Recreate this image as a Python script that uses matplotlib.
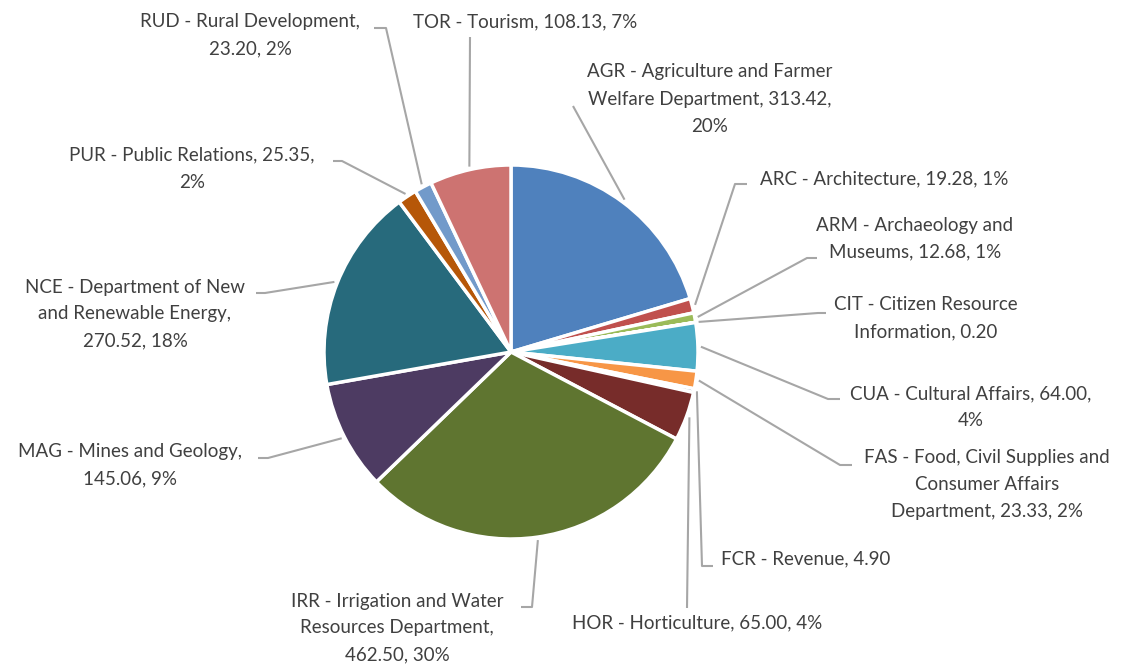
import numpy as np
import matplotlib
matplotlib.use('Agg')
import matplotlib.pyplot as plt

# data
codes = ['AGR', 'ARC', 'ARM', 'CIT', 'CUA', 'FAS', 'FCR', 'HOR', 'IRR', 'MAG',
         'NCE', 'PUR', 'RUD', 'TOR']
names = ['Agriculture and Farmer\nWelfare Department', 'Architecture',
         'Archaeology and\nMuseums', 'Citizen Resource\nInformation',
         'Cultural Affairs', 'Food, Civil Supplies and\nConsumer Affairs\nDepartment',
         'Revenue', 'Horticulture', 'Irrigation and Water\nResources Department',
         'Mines and Geology', 'Department of New\nand Renewable Energy',
         'Public Relations', 'Rural Development', 'Tourism']
values = [313.42, 19.28, 12.68, 0.20, 64.00, 23.33, 4.90, 65.00, 462.50, 145.06,
          270.52, 25.35, 23.20, 108.13]
colors = ['#4F81BD', '#C0504D', '#9BBB59', '#8064A2', '#4BACC6', '#F79646',
          '#2C4D75', '#772C2A', '#5F7530', '#4D3B62', '#276A7C', '#B65708',
          '#729ACA', '#CD7371']

# layout (pixels): label centre x, first line y, line break after name / value,
# leader line bend points
layout = {
    'AGR': (710, 72, ' ', '\n', [(573, 106)]),
    'ARC': (884, 179, ' ', ' ', [(735, 184), (747, 184)]),
    'ARM': (915, 225, ' ', ' ', [(807, 258), (817, 258)]),
    'CIT': (926, 305, ' ', ' ', [(818, 313), (826, 313)]),
    'CUA': (971, 394, ' ', '\n', [(828, 399), (840, 399)]),
    'FAS': (987, 458, ' ', ' ', [(840, 465), (852, 465)]),
    'FCR': (806, 559, ' ', ' ', [(702, 566), (713, 566)]),
    'HOR': (697, 623, ' ', ' ', [(687, 608)]),
    'IRR': (397, 601, '\n', ' ', [(532, 607), (521, 607)]),
    'MAG': (130, 452, '\n', ' ', [(268, 458), (258, 458)]),
    'NCE': (135, 287, '\n', ' ', [(265, 293), (256, 293)]),
    'PUR': (192, 155, ' ', '\n', [(342, 161), (333, 161)]),
    'RUD': (250, 22, '\n', ' ', [(386, 28), (374, 28)]),
    'TOR': (525, 22, ' ', ' ', [(470, 37)]),
}

plt.rcParams['font.family'] = ['Lato', 'DejaVu Sans']
txt_color = '#404040'
line_color = '#A6A6A6'
cx, cy, r = 511, 352, 187
line_h = 27

fig = plt.figure(figsize=(11.29, 6.70), dpi=100)
ax = fig.add_axes([0, 0, 1, 1])

# y axis points down so angles run clockwise on screen with counterclock=True
wedges, _ = ax.pie(values, colors=colors, startangle=-90, counterclock=True,
                   center=(cx, cy), radius=r,
                   wedgeprops=dict(edgecolor='white', linewidth=2.5))
ax.set_xlim(0, 1129)
ax.set_ylim(670, 0)
ax.axis('off')

total = sum(values)
for w, code, name, v in zip(wedges, codes, names, values):
    lx, ly, s1, s2, bends = layout[code]
    pct = round(100 * v / total)
    text = f"{code} - {name},{s1}{v:.2f}"
    if pct > 0:
        text += f",{s2}{pct}%"
    for i, line in enumerate(text.split('\n')):
        ax.text(lx, ly + i * line_h, line, ha='center', va='center',
                fontsize=13.5, color=txt_color)
    ang = np.deg2rad((w.theta1 + w.theta2) / 2)
    sx = cx + (r + 3) * np.cos(ang)
    sy = cy + (r + 3) * np.sin(ang)
    px = [sx] + [b[0] for b in bends]
    py = [sy] + [b[1] for b in bends]
    ax.plot(px, py, color=line_color, lw=1.5, solid_capstyle='butt', zorder=0)

fig.savefig('out.png', dpi=100)
